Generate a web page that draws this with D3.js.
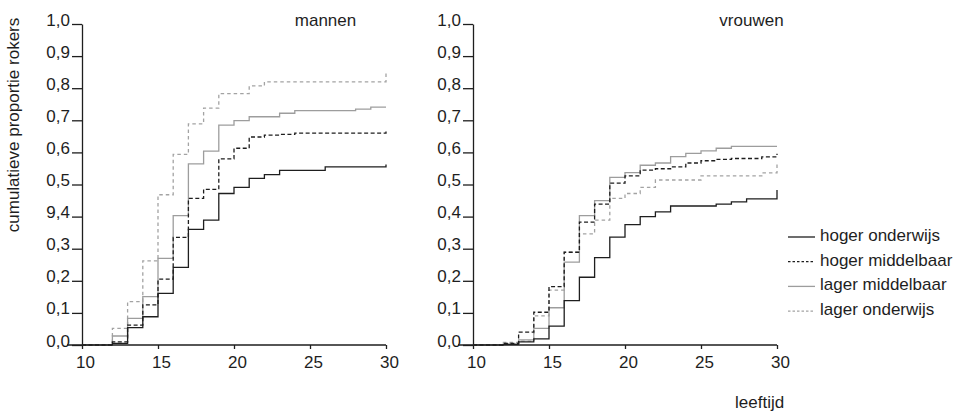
<!DOCTYPE html>
<html>
<head>
<meta charset="utf-8">
<script src="https://cdn.jsdelivr.net/npm/d3@7/dist/d3.min.js"></script>
<style>
	body {margin: 0; background: #fff}
	svg text {font-family: "Liberation Sans", Arial, sans-serif; fill: #1e1e1e}
	.axis path, .axis line {stroke: #1e1e1e; stroke-width: 1.3}
	.curve {fill: none; stroke-width: 1.3}
</style>
</head>
<body>
<div id="chart"></div>
<script>
var ages = [10, 11, 12, 13, 14, 15, 16, 17, 18, 19, 20, 21, 22, 23, 24, 25, 26, 27, 28, 29, 30]
var xTicks = [10, 15, 20, 25, 30]
var yTicks = [0, 0.1, 0.2, 0.3, 0.4, 0.5, 0.6, 0.7, 0.8, 0.9, 1.0]
var yLabelsMannen = ["0,0", "0,1", "0,2", "0,3", "9,4", "0,5", "0,6", "0,7", "0,8", "0,9", "1,0"]
var yLabelsVrouwen = ["0,0", "0,1", "0,2", "0,3", "0,4", "0,5", "0,6", "0,7", "0,8", "0,9", "1,0"]
var seriesNames = ["hoger onderwijs", "hoger middelbaar", "lager middelbaar", "lager onderwijs"]

// cumulatieve proportie per leeftijd (laatste waarde = eindpunt bij 30)
var mannenHogerOnderwijs = [0, 0, 0.005, 0.054, 0.088, 0.161, 0.242, 0.360, 0.389, 0.472, 0.491, 0.519, 0.531, 0.544, 0.544, 0.544, 0.555, 0.555, 0.555, 0.555, 0.562]
var mannenHogerMiddelbaar = [0, 0, 0.010, 0.062, 0.125, 0.205, 0.335, 0.457, 0.485, 0.580, 0.613, 0.648, 0.654, 0.656, 0.660, 0.660, 0.660, 0.660, 0.660, 0.660, 0.668]
var mannenLagerMiddelbaar = [0, 0, 0.028, 0.083, 0.151, 0.270, 0.403, 0.564, 0.604, 0.685, 0.699, 0.711, 0.711, 0.722, 0.730, 0.730, 0.730, 0.730, 0.735, 0.741, 0.741]
var mannenLagerOnderwijs = [0, 0, 0.052, 0.135, 0.262, 0.468, 0.594, 0.689, 0.738, 0.783, 0.783, 0.807, 0.820, 0.820, 0.820, 0.820, 0.820, 0.820, 0.820, 0.820, 0.851]

var vrouwenHogerOnderwijs = [0, 0, 0.002, 0.010, 0.019, 0.059, 0.138, 0.211, 0.272, 0.336, 0.375, 0.400, 0.415, 0.433, 0.433, 0.433, 0.439, 0.446, 0.455, 0.455, 0.483]
var vrouwenHogerMiddelbaar = [0, 0, 0.005, 0.040, 0.102, 0.182, 0.289, 0.383, 0.439, 0.504, 0.527, 0.545, 0.549, 0.555, 0.567, 0.574, 0.578, 0.581, 0.581, 0.586, 0.596]
var vrouwenLagerMiddelbaar = [0, 0, 0.003, 0.016, 0.052, 0.116, 0.258, 0.403, 0.450, 0.522, 0.537, 0.560, 0.567, 0.587, 0.597, 0.605, 0.613, 0.619, 0.619, 0.619, 0.619]
var vrouwenLagerOnderwijs = [0, 0, 0.008, 0.012, 0.091, 0.171, 0.289, 0.346, 0.389, 0.457, 0.472, 0.491, 0.514, 0.514, 0.514, 0.527, 0.527, 0.527, 0.527, 0.536, 0.566]

var seriesStyles = [
	{color: "#1e1e1e", dash: null},
	{color: "#1e1e1e", dash: "4,2.5"},
	{color: "#9d9d9d", dash: null},
	{color: "#a3a3a3", dash: "3.5,3"}
]

var width = 978, height = 418
var plot_top = 24, plot_bottom = 345, plot_width = 304
var font_size = "17px"

var svg = d3.select("#chart")
	.append("svg")
		.attr("width", width)
		.attr("height", height)

function draw_panel(left, title, title_x, yLabels, seriesValues) {
	var x = d3.scaleLinear().domain([10, 30]).range([left, left + plot_width])
	var y = d3.scaleLinear().domain([0, 1]).range([plot_bottom, plot_top])
	var g = svg.append("g")

	var xAxis = d3.axisBottom(x).tickValues(xTicks).tickSize(4).tickSizeOuter(0).tickPadding(0)
	var xg = g.append("g")
		.attr("class", "axis")
		.attr("transform", "translate(0," + plot_bottom + ")")
		.call(xAxis)
	xg.attr("font-family", null)
	xg.select(".domain").remove()
	xg.append("line")
		.attr("x1", x(10) - 15)
		.attr("x2", x(30))
		.attr("y1", 0)
		.attr("y2", 0)
	xg.selectAll(".tick text")
		.attr("y", 23)
		.attr("dy", 0)
		.attr("dx", 3)
		.style("font-size", font_size)
		.attr("fill", "#1e1e1e")

	var yAxis = d3.axisLeft(y).tickValues(yTicks).tickSize(10).tickSizeOuter(0).tickPadding(2)
		.tickFormat((d, i) => yLabels[i])
	var yg = g.append("g")
		.attr("class", "axis")
		.attr("transform", "translate(" + left + ",0)")
		.call(yAxis)
	yg.attr("font-family", null)
	yg.selectAll(".tick text")
		.attr("dy", "0.06em")
		.style("font-size", font_size)
		.attr("fill", "#1e1e1e")

	var line = d3.line()
		.x((d) => x(d.age))
		.y((d) => y(d.value))
		.curve(d3.curveStepAfter)

	var order = [3, 2, 1, 0]
	order.forEach((k) => {
		var pts = ages.map((a, i) => ({age: a, value: seriesValues[k][i]}))
		g.append("path")
			.attr("class", "curve")
			.attr("d", line(pts))
			.attr("stroke", seriesStyles[k].color)
			.attr("stroke-dasharray", seriesStyles[k].dash)
	})

	g.append("text")
		.attr("x", title_x)
		.attr("y", 26)
		.style("text-anchor", "middle")
		.style("font-size", font_size)
		.text(title)
}

draw_panel(82, "mannen", 325.5, yLabelsMannen,
	[mannenHogerOnderwijs, mannenHogerMiddelbaar, mannenLagerMiddelbaar, mannenLagerOnderwijs])
draw_panel(473, "vrouwen", 751.5, yLabelsVrouwen,
	[vrouwenHogerOnderwijs, vrouwenHogerMiddelbaar, vrouwenLagerMiddelbaar, vrouwenLagerOnderwijs])

svg.append("text")
	.attr("transform", "translate(19,125) rotate(-90)")
	.style("text-anchor", "middle")
	.style("font-size", font_size)
	.text("cumulatieve proportie rokers")

svg.append("text")
	.attr("x", 735)
	.attr("y", 408)
	.style("font-size", font_size)
	.text("leeftijd")

var legend = svg.append("g")
	.attr("transform", "translate(788,237)")
var items = legend.selectAll("g.item")
	.data(seriesNames)
	.enter()
	.append("g")
		.attr("class", "item")
		.attr("transform", (d, i) => "translate(0," + (i * 24.7) + ")")
items.append("line")
	.attr("x1", 0)
	.attr("x2", 27)
	.attr("stroke", (d, i) => seriesStyles[i].color)
	.attr("stroke-dasharray", (d, i) => seriesStyles[i].dash === null ? null : "2.5,2")
	.attr("stroke-width", 1.3)
items.append("text")
	.attr("x", 32)
	.attr("y", 4)
	.style("font-size", font_size)
	.text((d) => d)
</script>
</body>
</html>
